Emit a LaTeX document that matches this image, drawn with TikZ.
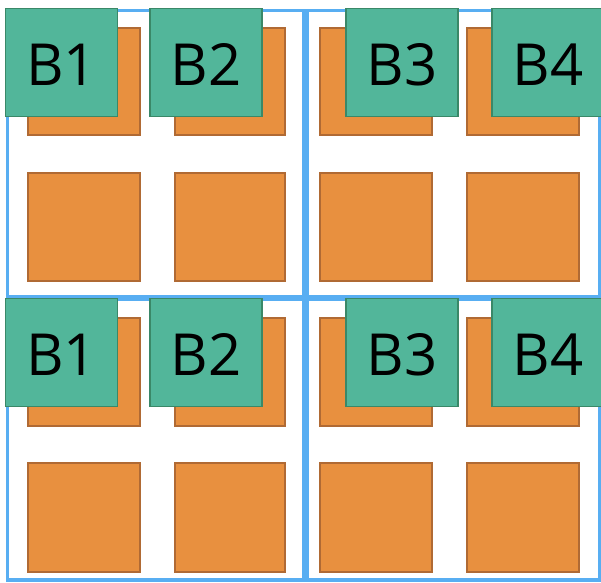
\documentclass[tikz,border=0pt]{standalone}
\usepackage{fontspec}
\setmainfont{Open Sans}
\definecolor{frameblue}{HTML}{58AEF2}
\definecolor{orfill}{HTML}{E8903F}
\definecolor{ordraw}{HTML}{B06A34}
\definecolor{grfill}{HTML}{52B69A}
\definecolor{grdraw}{HTML}{3A8868}
\tikzset{
  frame/.style={draw=frameblue, line width=3.6pt},
  orsq/.style={draw=ordraw, fill=orfill, line width=1.3pt},
  grbox/.style={draw=grdraw, fill=grfill, line width=1.6pt, inner sep=0pt, outer sep=0pt,
    minimum width=112pt, minimum height=108pt, text height=46pt, text depth=0pt,
    font=\fontsize{58}{58}\selectfont, text=black, anchor=north west},
}
\begin{document}
\begin{tikzpicture}[x=1pt,y=-1pt]
\useasboundingbox (0,0) rectangle (601,582);
\clip (0,0) rectangle (601,582);
% blue frames
\draw[frame] (7.5,10.5) rectangle (304,296.5);
\draw[frame] (307,10.5) rectangle (600,296.5);
\draw[frame] (7.5,299.5) rectangle (304,580.2);
\draw[frame] (307,299.5) rectangle (600,580.2);
% orange squares
\foreach \r/\ya/\yb in {1/28/135,2/173/281,3/318/426,4/463/572}{
  \foreach \c/\xa/\xb in {1/28/140,2/175/285,3/320/432,4/467/579}{
    \draw[orsq] (\xa,\ya) rectangle (\xb,\yb);
  }
}
% green boxes
\node[grbox] (a1) at (5.5,8.5) {B1};
\node[grbox] (a2) at (150,8.5) {B2};
\node[grbox] (a3) at (346,8.5) {B3};
\node[grbox] (a4) at (492,8.5) {B4};
\node[grbox] (b1) at (5.5,298.5) {B1};
\node[grbox] (b2) at (150,298.5) {B2};
\node[grbox] (b3) at (346,298.5) {B3};
\node[grbox] (b4) at (492,298.5) {B4};
\end{tikzpicture}
\end{document}
